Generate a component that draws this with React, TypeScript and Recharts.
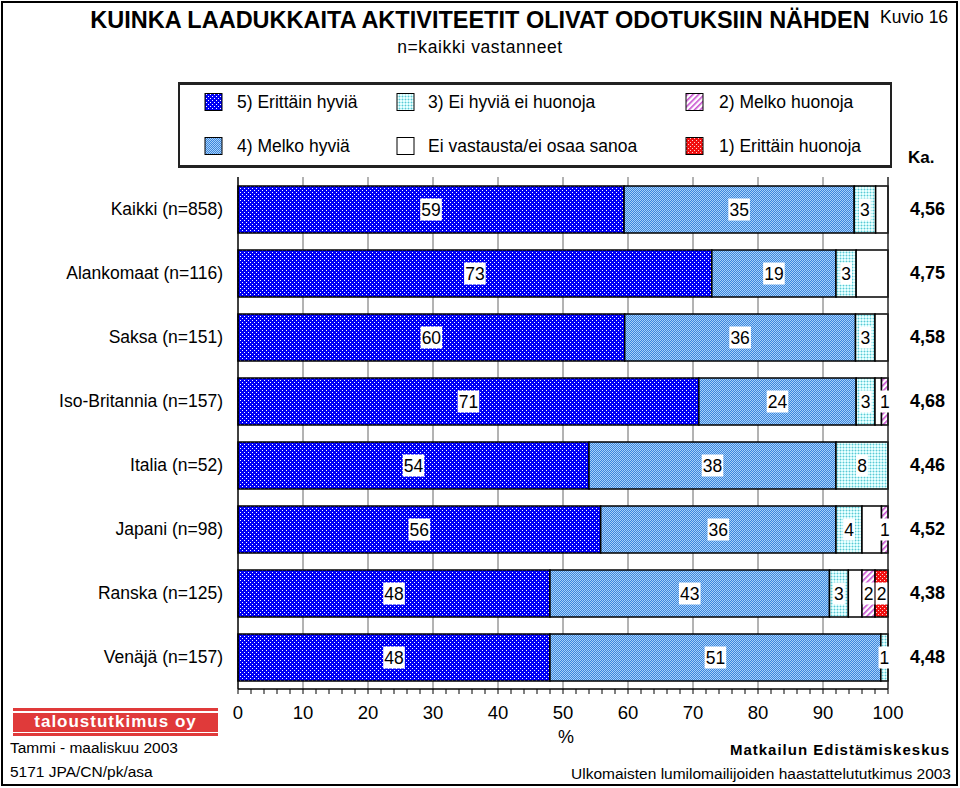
import React from 'react';
import { BarChart, Bar, XAxis, YAxis, CartesianGrid, LabelList } from 'recharts';

const categories = [
  'Kaikki (n=858)',
  'Alankomaat (n=116)',
  'Saksa (n=151)',
  'Iso-Britannia (n=157)',
  'Italia (n=52)',
  'Japani (n=98)',
  'Ranska (n=125)',
  'Venäjä (n=157)',
];
const erittainHyvia = [59.4, 72.9, 59.5, 70.9, 54.0, 55.8, 48.0, 48.0];
const melkoHyvia = [35.4, 19.1, 35.5, 24.2, 38.0, 36.2, 43.0, 50.9];
const eiHyviaEiHuonoja = [3.3, 3.1, 3.0, 2.9, 8.0, 4.0, 2.9, 1.1];
const eiVastausta = [1.9, 4.9, 2.0, 1.0, 0, 3.0, 2.1, 0];
const melkoHuonoja = [0, 0, 0, 1.0, 0, 1.0, 2.0, 0];
const erittainHuonoja = [0, 0, 0, 0, 0, 0, 2.0, 0];
const averages = ['4,56', '4,75', '4,58', '4,68', '4,46', '4,52', '4,38', '4,48'];
const xTicks = [
  0, 2, 4, 6, 8, 10, 12, 14, 16, 18, 20, 22, 24, 26, 28, 30, 32, 34, 36, 38, 40,
  42, 44, 46, 48, 50, 52, 54, 56, 58, 60, 62, 64, 66, 68, 70, 72, 74, 76, 78, 80,
  82, 84, 86, 88, 90, 92, 94, 96, 98, 100,
];
const gridValues = [10, 20, 30, 40, 50, 60, 70, 80, 90];

const data = categories.map((name, i) => ({
  name,
  s5: erittainHyvia[i],
  s4: melkoHyvia[i],
  s3: eiHyviaEiHuonoja[i],
  s0: eiVastausta[i],
  s2: melkoHuonoja[i],
  s1: erittainHuonoja[i],
}));

const FONT = '"Liberation Sans", Arial, Helvetica, sans-serif';

const legendItems = [
  { label: '5) Erittäin hyviä', fill: 'url(#p5)', x: 205, y: 102, tx: 237 },
  { label: '3) Ei hyviä ei huonoja', fill: 'url(#p3)', x: 397, y: 102, tx: 428 },
  { label: '2) Melko huonoja', fill: 'url(#p2)', x: 686, y: 102, tx: 719 },
  { label: '4) Melko hyviä', fill: 'url(#p4)', x: 205, y: 146, tx: 237 },
  { label: 'Ei vastausta/ei osaa sanoa', fill: '#ffffff', x: 397, y: 146, tx: 428 },
  { label: '1) Erittäin huonoja', fill: 'url(#p1)', x: 686, y: 146, tx: 719 },
];

const SegLabel = (props: any) => {
  const { x, y, width, height, value } = props;
  if (!value || value <= 0) return null;
  const txt = String(Math.round(value));
  const w = txt.length * 9.8 + 2;
  const cx = x + width / 2;
  const cy = y + height / 2;
  return (
    <g>
      <rect x={cx - w / 2} y={cy - 11} width={w} height={22} fill="#ffffff" />
      <text x={cx} y={cy} textAnchor="middle" dominantBaseline="central" fontSize={17.5} fontFamily={FONT} fill="#000">
        {txt}
      </text>
    </g>
  );
};

const XTick = (props: any) => {
  const { x, y, payload } = props;
  if (payload.value % 10 !== 0) return null;
  return (
    <text x={x} y={y} dy={23} textAnchor="middle" fontSize={18.5} fontFamily={FONT} fill="#000">
      {payload.value}
    </text>
  );
};

export default function App() {
  return (
    <div style={{ position: 'absolute', left: 0, top: 0, width: 960, height: 788, background: '#fff', fontFamily: FONT, color: '#000', overflow: 'hidden' }}>
      <svg width={0} height={0} style={{ position: 'absolute' }}>
        <defs>
          <pattern id="p5" width="4" height="4" patternUnits="userSpaceOnUse">
            <rect width="4" height="4" fill="#0000f4" />
            <rect x="0" y="0" width="1" height="1" fill="#ffffff" />
            <rect x="2" y="2" width="1" height="1" fill="#ffffff" />
          </pattern>
          <pattern id="p4" width="2" height="2" patternUnits="userSpaceOnUse">
            <rect width="2" height="2" fill="#3d86dc" />
            <rect x="0" y="0" width="1" height="1" fill="#a8d2fa" />
            <rect x="1" y="1" width="1" height="1" fill="#a8d2fa" />
          </pattern>
          <pattern id="p3" width="3" height="3" patternUnits="userSpaceOnUse">
            <rect width="3" height="3" fill="#e8ffff" />
            <rect x="0" y="0" width="3" height="1" fill="#b0eef2" />
            <rect x="0" y="0" width="1" height="3" fill="#b0eef2" />
            <rect x="0" y="0" width="1" height="1" fill="#5ec6d2" />
          </pattern>
          <pattern id="p2" width="4" height="4" patternUnits="userSpaceOnUse" patternTransform="rotate(45)">
            <rect width="4" height="4" fill="#ffffff" />
            <rect x="0" y="0" width="1.6" height="4" fill="#c850d0" />
          </pattern>
          <pattern id="p1" width="4" height="4" patternUnits="userSpaceOnUse">
            <rect width="4" height="4" fill="#f01010" />
            <rect x="0" y="0" width="1" height="1" fill="#ffd0d0" />
            <rect x="2" y="2" width="1" height="1" fill="#ffd0d0" />
          </pattern>
        </defs>
      </svg>

      <div style={{ position: 'absolute', left: 0, top: 0 }}>
        <BarChart
          width={960}
          height={788}
          data={data}
          layout="vertical"
          margin={{ top: 177, right: 0, bottom: 0, left: 0 }}
          barSize={47}
        >
          <CartesianGrid horizontal={false} vertical={true} verticalValues={gridValues} stroke="#808080" strokeWidth={1.2} />
          <XAxis
            type="number"
            domain={[0, 100]}
            ticks={xTicks}
            interval={0}
            height={99}
            tickSize={5}
            tickMargin={2}
            axisLine={{ stroke: '#000', strokeWidth: 1.5 }}
            tickLine={{ stroke: '#000' }}
            tick={<XTick />}
          />
          <XAxis
            xAxisId="top"
            orientation="top"
            type="number"
            domain={[0, 100]}
            height={0}
            tick={false}
            tickLine={false}
            axisLine={{ stroke: '#222', strokeWidth: 1.5 }}
          />
          <YAxis
            type="category"
            dataKey="name"
            width={238}
            tickSize={0}
            tickMargin={15}
            axisLine={{ stroke: '#000', strokeWidth: 1.5 }}
            tickLine={false}
            tick={{ fontSize: 17.5, fill: '#000', fontFamily: FONT }}
          />
          <YAxis
            yAxisId="right"
            orientation="right"
            type="category"
            dataKey="name"
            width={72}
            tickSize={0}
            tickMargin={22}
            axisLine={{ stroke: '#222', strokeWidth: 1.5 }}
            tickLine={false}
            tickFormatter={(v: string) => averages[categories.indexOf(v)]}
            tick={{ fontSize: 18, fill: '#000', fontWeight: 'bold', fontFamily: FONT }}
          />
          <Bar dataKey="s5" stackId="a" fill="url(#p5)" stroke="#000" strokeWidth={1.5} isAnimationActive={false}>
            <LabelList dataKey="s5" content={<SegLabel />} />
          </Bar>
          <Bar dataKey="s4" stackId="a" fill="url(#p4)" stroke="#000" strokeWidth={1.5} isAnimationActive={false}>
            <LabelList dataKey="s4" content={<SegLabel />} />
          </Bar>
          <Bar dataKey="s3" stackId="a" fill="url(#p3)" stroke="#000" strokeWidth={1.5} isAnimationActive={false}>
            <LabelList dataKey="s3" content={<SegLabel />} />
          </Bar>
          <Bar dataKey="s0" stackId="a" fill="#ffffff" stroke="#000" strokeWidth={1.5} isAnimationActive={false} />
          <Bar dataKey="s2" stackId="a" fill="url(#p2)" stroke="#000" strokeWidth={1.5} isAnimationActive={false}>
            <LabelList dataKey="s2" content={<SegLabel />} />
          </Bar>
          <Bar dataKey="s1" stackId="a" fill="url(#p1)" stroke="#000" strokeWidth={1.5} isAnimationActive={false}>
            <LabelList dataKey="s1" content={<SegLabel />} />
          </Bar>
        </BarChart>
      </div>

      {/* Title */}
      <div style={{ position: 'absolute', left: 0, top: 7, width: 960, textAlign: 'center', fontSize: 23.5, fontWeight: 'bold', whiteSpace: 'nowrap' }}>
        KUINKA LAADUKKAITA AKTIVITEETIT OLIVAT ODOTUKSIIN NÄHDEN
      </div>
      <div style={{ position: 'absolute', left: 880, top: 7, fontSize: 17.5, whiteSpace: 'nowrap' }}>Kuvio 16</div>
      <div style={{ position: 'absolute', left: 0, top: 37, width: 960, textAlign: 'center', fontSize: 17.5, letterSpacing: 0.6, whiteSpace: 'nowrap' }}>
        n=kaikki vastanneet
      </div>

      {/* Legend */}
      <div style={{ position: 'absolute', left: 178, top: 82, width: 714, height: 86, boxSizing: 'border-box', borderTop: '3px solid #222', borderBottom: '3px solid #222', borderLeft: '2px solid #222', borderRight: '2px solid #222' }} />
      <svg width={960} height={180} style={{ position: 'absolute', left: 0, top: 0 }}>
        {legendItems.map((it) => (
          <g key={it.label}>
            <rect x={it.x} y={it.y - 8.5} width={17} height={17} fill={it.fill} stroke="#000" strokeWidth={1} />
            <text x={it.tx} y={it.y} dominantBaseline="central" fontSize={17.5} fontFamily={FONT} fill="#000">
              {it.label}
            </text>
          </g>
        ))}
        <text x={908} y={157} dominantBaseline="central" fontSize={17} fontWeight="bold" fontFamily={FONT} fill="#000">
          Ka.
        </text>
      </svg>

      {/* Axis unit */}
      <div style={{ position: 'absolute', left: 558, top: 727, fontSize: 18 }}>%</div>

      {/* Logo */}
      <div style={{ position: 'absolute', left: 13, top: 708, width: 205, height: 28, background: '#e03a3a' }}>
        <div style={{ position: 'absolute', left: 0, top: 3, width: 205, height: 1.5, background: '#fff' }} />
        <div style={{ position: 'absolute', left: 0, top: 23.5, width: 205, height: 1.5, background: '#fff' }} />
        <div style={{ position: 'absolute', left: 0, top: 4, width: 205, height: 20, lineHeight: '20px', textAlign: 'center', color: '#fff', fontWeight: 'bold', fontSize: 17, letterSpacing: 1 }}>
          taloustutkimus oy
        </div>
      </div>
      <div style={{ position: 'absolute', left: 10, top: 739, fontSize: 15.5, whiteSpace: 'nowrap' }}>Tammi - maaliskuu 2003</div>
      <div style={{ position: 'absolute', left: 10, top: 763, fontSize: 15.5, whiteSpace: 'nowrap' }}>5171 JPA/CN/pk/asa</div>

      <div style={{ position: 'absolute', right: 10, top: 741, fontSize: 15, fontWeight: 'bold', letterSpacing: 1, whiteSpace: 'nowrap' }}>
        Matkailun Edistämiskeskus
      </div>
      <div style={{ position: 'absolute', right: 9, top: 765, fontSize: 15.5, whiteSpace: 'nowrap' }}>
        Ulkomaisten lumilomailijoiden haastattelututkimus 2003
      </div>

      {/* Outer frame */}
      <div style={{ position: 'absolute', left: 1, top: 1, width: 957, height: 785, boxSizing: 'border-box', border: '2px solid #000', pointerEvents: 'none' }} />
    </div>
  );
}
